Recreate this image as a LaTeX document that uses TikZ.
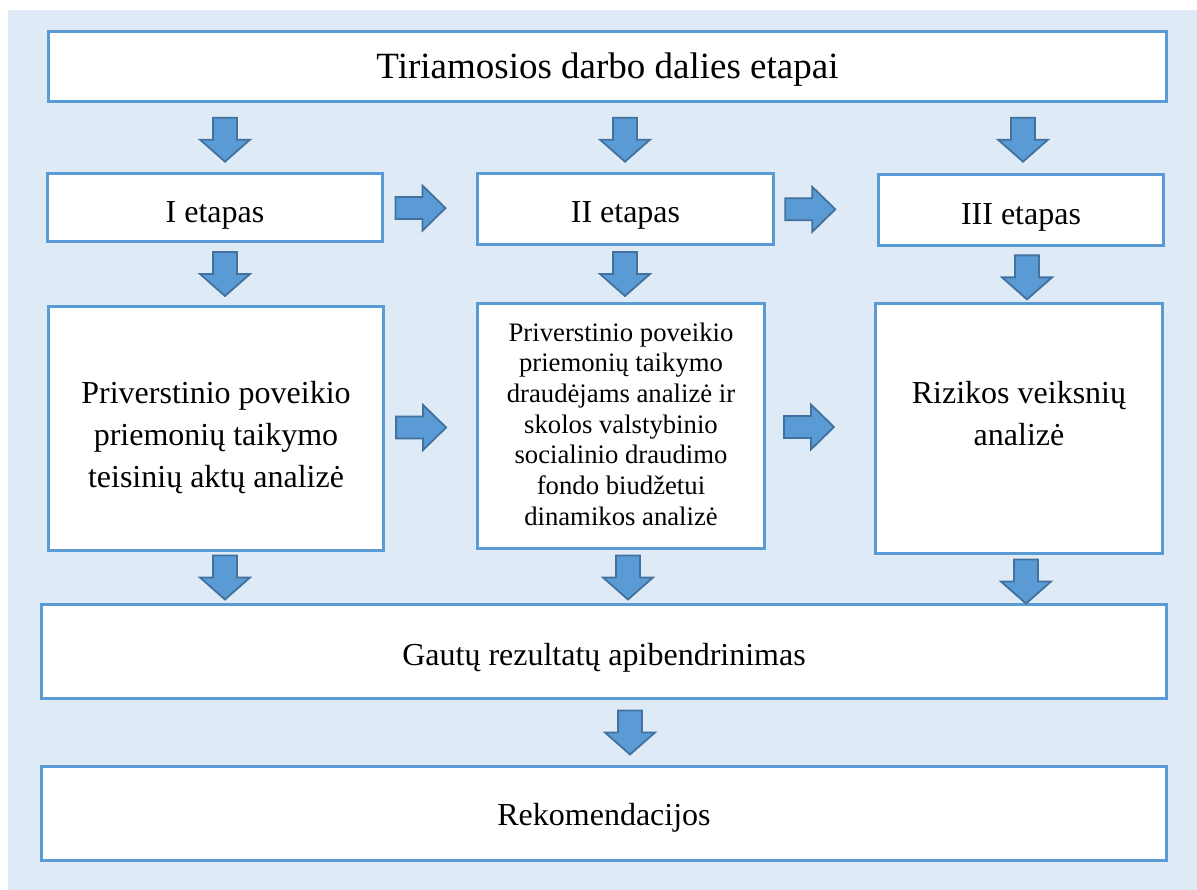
\documentclass[tikz,border=0pt]{standalone}
\usepackage{fontspec}
\setmainfont{Liberation Serif}
\usetikzlibrary{calc}
\definecolor{bgblue}{RGB}{222,235,247}
\definecolor{boxline}{RGB}{91,155,213}
\definecolor{arrfill}{RGB}{91,155,213}
\definecolor{arrline}{RGB}{65,113,156}
\tikzset{
  box/.style={draw=boxline, fill=white, line width=2.6pt, outer sep=0pt, inner sep=0pt},
  txt/.style={align=center, inner sep=0pt, font=\fontsize{32}{42}\selectfont},
  arrowstyle/.style={fill=arrfill, draw=arrline, line width=1.8pt, line join=miter},
  darr/.pic={\path[arrowstyle] (-12,-22) -- (12,-22) -- (12,0) -- (25,0) -- (0,22) -- (-25,0) -- (-12,0) -- cycle;},
  rarr/.pic={\path[arrowstyle] (-25,-11) -- (2,-11) -- (2,-22.5) -- (25,0) -- (2,22.5) -- (2,11) -- (-25,11) -- cycle;}
}
\begin{document}
\begin{tikzpicture}[x=1pt,y=-1pt]
\useasboundingbox (0,0) rectangle (1197,890);
\fill[bgblue] (8,10) rectangle (1197,890);
% boxes
\node[box, minimum width=1118pt, minimum height=70pt] (title) at (607.5,66.5) {};
\node[box, minimum width=335pt, minimum height=68pt] (e1) at (215,207.5) {};
\node[box, minimum width=296pt, minimum height=71pt] (e2) at (625.5,209) {};
\node[box, minimum width=285pt, minimum height=71pt] (e3) at (1021,210) {};
\node[box, minimum width=335pt, minimum height=244pt] (b1) at (216,428.5) {};
\node[box, minimum width=287pt, minimum height=245pt] (b2) at (621,426) {};
\node[box, minimum width=287pt, minimum height=250pt] (b3) at (1019,428.5) {};
\node[box, minimum width=1125pt, minimum height=94pt] (g) at (604,651.5) {};
\node[box, minimum width=1125pt, minimum height=94pt] (r) at (604,813.5) {};
% texts
\node[txt, font=\fontsize{37}{44}\selectfont] (titlet) at ($(title.center)+(0,3)$) {Tiriamosios darbo dalies etapai};
\node[txt] (e1t) at ($(e1.center)+(0,8)$) {I etapas};
\node[txt] (e2t) at ($(e2.center)+(0,6)$) {II etapas};
\node[txt] (e3t) at ($(e3.center)+(0,7)$) {III etapas};
\node[txt] (b1t) at ($(b1.center)+(0,9)$) {Priverstinio poveikio\\priemonių taikymo\\teisinių aktų analizė};
\node[txt, font=\fontsize{26.7}{30.7}\selectfont] (b2t) at ($(b2.center)+(0,-2)$) {Priverstinio poveikio\\priemonių taikymo\\draudėjams analizė ir\\skolos valstybinio\\socialinio draudimo\\fondo biudžetui\\dinamikos analizė};
\node[txt] (b3t) at ($(b3.center)+(0,-15)$) {Rizikos veiksnių\\analizė};
\node[txt] (gt) at ($(g.center)+(0,6)$) {Gautų rezultatų apibendrinimas};
\node[txt] (rt) at ($(r.center)+(0,4)$) {Rekomendacijos};
% down arrows
\path ($(title.south)!.53!(e1.north)$) coordinate (m1);
\path ($(e1.south)!.5!(b1.north)$) coordinate (m2);
\path ($(e3.south)!.55!(b3.north)$) coordinate (m2c);
\path ($(b1.south)!.5!(g.north)$) coordinate (m3);
\path ($(b3.south)!.55!(g.north)$) coordinate (m3c);
\path ($(g.south)!.5!(r.north)$) coordinate (m4);
\pic at (225,0 |- m1) {darr};
\pic at (625,0 |- m1) {darr};
\pic at (1023,0 |- m1) {darr};
\pic at (225,0 |- m2) {darr};
\pic at (625,0 |- m2) {darr};
\pic at (1027,0 |- m2c) {darr};
\pic at (225,0 |- m3) {darr};
\pic at (628,0 |- m3) {darr};
\pic at (1026,0 |- m3c) {darr};
\pic at (630,0 |- m4) {darr};
% right arrows
\pic at ($(e1.east)!.4!(e2.west)$) {rarr};
\pic at ($(e2.east)!.35!(e3.west)$) {rarr};
\pic at ($(b1.east)!.4!(b2.west)$) {rarr};
\pic at ($(b2.east)!.4!(b3.west)$) {rarr};
\end{tikzpicture}
\end{document}
